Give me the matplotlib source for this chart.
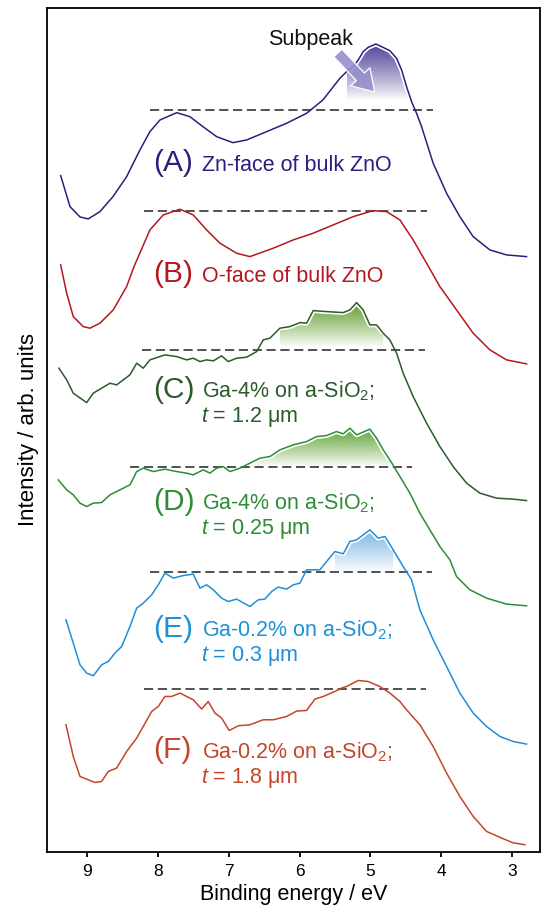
import numpy as np; import matplotlib.pyplot as plt
from matplotlib.patches import Polygon
from matplotlib.colors import to_rgb

plt.rcParams['font.family'] = ['Liberation Sans', 'DejaVu Sans']
plt.rcParams['mathtext.fontset'] = 'custom'
plt.rcParams['mathtext.rm'] = 'Liberation Sans'
plt.rcParams['mathtext.it'] = 'Liberation Sans:italic'

##### Spectra (binding energy / eV, intensity relative to each dashed reference line)
e_a = [9.376, 9.244, 9.103, 8.986, 8.821, 8.637, 8.444, 8.256, 8.115, 7.973, 7.737, 7.550, 7.366,
       7.172, 6.942, 6.749, 6.466, 6.184, 5.901, 5.671, 5.431, 5.336, 5.243, 5.172, 5.102, 5.031,
       4.922, 4.842, 4.725, 4.630, 4.559, 4.489, 4.418, 4.348, 4.277, 4.113, 3.924, 3.736, 3.548,
       3.312, 3.076, 2.794]
i_a = [-6.57, -9.67, -10.7, -10.9, -10.17, -8.67, -6.67, -4.0, -2.17, -1.0, -0.27, -0.67, -1.67,
       -2.67, -3.27, -3.0, -2.17, -1.33, -0.33, 1.0, 3.17, 3.83, 4.33, 5.0, 5.83, 6.27,
       6.6, 6.33, 5.93, 5.17, 4.0, 2.33, 0.83, -0.33, -1.67, -5.33, -8.33, -10.67, -12.67,
       -14.0, -14.5, -14.67]

e_b = [9.376, 9.291, 9.198, 9.057, 8.962, 8.821, 8.633, 8.444, 8.340, 8.115, 7.927, 7.691, 7.503,
       7.314, 7.126, 6.890, 6.702, 6.373, 6.090, 5.808, 5.526, 5.243, 4.961, 4.771, 4.583, 4.396,
       4.206, 4.018, 3.783, 3.548, 3.312, 3.076, 2.794]
i_b = [-5.43, -8.26, -10.6, -11.6, -11.76, -11.26, -9.93, -7.6, -5.6, -1.93, -0.43, 0.14, -0.43,
       -1.93, -3.26, -4.26, -4.6, -3.76, -2.93, -2.26, -1.43, -0.6, 0.0, -0.1, -0.93, -2.93,
       -5.26, -7.6, -9.93, -12.26, -13.93, -14.93, -15.33]

e_c = [9.400, 9.291, 9.198, 9.009, 8.915, 8.797, 8.679, 8.585, 8.492, 8.397, 8.302, 8.209, 8.115,
       7.903, 7.737, 7.596, 7.503, 7.408, 7.314, 7.220, 7.102, 7.009, 6.890, 6.749, 6.607, 6.514,
       6.420, 6.278, 6.137, 5.996, 5.901, 5.808, 5.619, 5.384, 5.290, 5.195, 5.102, 5.007, 4.913,
       4.819, 4.725, 4.630, 4.537, 4.396, 4.206, 4.018, 3.831, 3.641, 3.453, 3.218, 2.983, 2.794]
i_c = [-1.83, -3.0, -4.33, -5.27, -4.33, -3.83, -3.33, -3.5, -3.0, -2.5, -1.33, -1.83, -1.0,
       -0.5, -0.67, -1.0, -0.83, -1.17, -1.0, -1.1, -0.6, -1.17, -0.83, -0.73, -0.17, 1.0,
       1.17, 2.17, 2.33, 2.73, 2.67, 3.93, 3.83, 3.73, 4.0, 4.73, 4.0, 2.5, 2.5,
       1.67, 1.0, -0.33, -2.33, -4.67, -7.33, -9.67, -11.67, -13.33, -14.33, -14.83, -14.93, -15.07]

e_d = [9.410, 9.291, 9.198, 9.103, 9.009, 8.915, 8.797, 8.679, 8.538, 8.397, 8.302, 8.209, 8.068,
       7.903, 7.737, 7.596, 7.503, 7.362, 7.267, 7.172, 7.079, 6.985, 6.843, 6.702, 6.561, 6.420,
       6.278, 6.090, 5.901, 5.760, 5.619, 5.478, 5.384, 5.290, 5.195, 5.007, 4.913, 4.819, 4.725,
       4.583, 4.442, 4.301, 4.160, 4.018, 3.877, 3.783, 3.595, 3.359, 3.076, 2.794]
i_d = [-1.33, -2.33, -2.83, -3.66, -4.0, -3.66, -3.6, -2.83, -2.33, -1.83, -0.5, -0.16, -0.5,
       -0.26, -0.5, -0.66, -0.83, -0.33, -0.66, -0.16, 0.0, -0.5, -0.16, 0.34, 0.84, 1.0,
       1.67, 2.17, 2.5, 3.0, 3.1, 3.5, 3.27, 3.84, 3.17, 3.74, 2.84, 1.67, 0.67,
       -1.0, -2.66, -4.66, -6.33, -8.0, -9.33, -11.0, -12.33, -13.16, -13.76, -13.93]

e_e = [9.301, 9.198, 9.103, 9.009, 8.915, 8.797, 8.703, 8.609, 8.514, 8.397, 8.302, 8.209, 8.090,
       7.997, 7.903, 7.785, 7.644, 7.503, 7.408, 7.314, 7.220, 7.102, 7.009, 6.890, 6.702, 6.585,
       6.490, 6.396, 6.302, 6.184, 6.090, 5.996, 5.901, 5.713, 5.619, 5.502, 5.384, 5.290, 5.195,
       5.007, 4.890, 4.795, 4.678, 4.537, 4.418, 4.301, 4.113, 3.924, 3.736, 3.548, 3.359, 3.171,
       2.983, 2.794]
i_e = [-4.77, -7.1, -9.27, -10.1, -10.37, -9.27, -8.94, -8.1, -7.44, -5.44, -3.6, -3.1, -2.27,
       -1.27, -0.1, -0.6, -0.34, -0.2, -1.6, -1.27, -1.77, -2.6, -2.94, -2.7, -3.44, -2.77,
       -2.7, -1.94, -1.5, -1.7, -1.27, -1.1, 0.23, 0.23, 1.06, 2.06, 1.83, 3.06, 3.23,
       4.23, 3.4, 3.56, 2.23, 0.56, -0.77, -3.77, -6.77, -9.44, -12.1, -14.1, -15.44, -16.44,
       -16.94, -17.2]

e_f = [9.301, 9.198, 9.103, 8.891, 8.797, 8.703, 8.585, 8.444, 8.302, 8.090, 7.997, 7.903, 7.808,
       7.691, 7.503, 7.384, 7.291, 7.196, 7.102, 6.994, 6.867, 6.702, 6.514, 6.373, 6.184, 6.042,
       5.901, 5.784, 5.667, 5.502, 5.407, 5.336, 5.172, 5.031, 4.866, 4.725, 4.583, 4.489, 4.301,
       4.113, 3.924, 3.736, 3.548, 3.359, 3.147, 2.987, 2.818]
i_f = [-3.57, -6.74, -8.74, -9.34, -9.24, -8.24, -7.9, -6.24, -4.9, -2.24, -1.74, -0.74, -0.74,
       -0.4, -1.07, -2.0, -1.24, -2.4, -2.9, -4.14, -3.67, -3.57, -3.07, -3.07, -2.74, -2.2,
       -2.14, -1.0, -0.74, -0.24, 0.1, 0.26, 0.86, 0.76, 0.26, -0.4, -1.24, -2.07, -3.57,
       -5.74, -8.4, -10.74, -12.74, -14.24, -14.9, -15.37, -15.57]

energies = [e_a, e_b, e_c, e_d, e_e, e_f]
intensities = [i_a, i_b, i_c, i_d, i_e, i_f]
offsets = [74.2, 64.13, 50.2, 38.53, 27.97, 16.27]
colors = ['#2A1F7E', '#B3181F', '#2C5A2A', '#2E8B36', '#1E8FD8', '#C4452A']

# dashed reference lines (energy span)
ref_from = [8.115, 8.199, 8.232, 8.397, 8.115, 8.199]
ref_to = [4.122, 4.206, 4.230, 4.418, 4.136, 4.216]

# subpeak shading: (curve index, energy span, colour)
shade_idx = [0, 2, 3, 4]
shade_from = [5.43, 6.38, 6.84, 5.57]
shade_to = [4.41, 4.75, 4.68, 4.54]
shade_base = [1.0, 0.3, 0.0, 0.0]
shade_col = ['#4E4399', '#5E9E2A', '#62A436', '#7DB4DE']

tags = ['(A)', '(B)', '(C)', '(D)', '(E)', '(F)']
line1 = ['Zn-face of bulk ZnO', 'O-face of bulk ZnO', 'Ga-4% on a-SiO$_2$;', 'Ga-4% on a-SiO$_2$;',
         'Ga-0.2% on a-SiO$_2$;', 'Ga-0.2% on a-SiO$_2$;']
line2 = ['', '', '$t$ = 1.2 μm', '$t$ = 0.25 μm', '$t$ = 0.3 μm', '$t$ = 1.8 μm']
label_y = [68.1, 57.0, 45.4, 34.2, 21.53, 9.37]

fig = plt.figure(figsize=(5.41, 9.09), dpi=100)
ax = fig.add_axes([0.0874, 0.063, 0.9106, 0.9282])

for k in range(6):
    e = np.array(energies[k]); y = np.array(intensities[k]) + offsets[k]
    ax.plot(e, y, color=colors[k], lw=1.1, zorder=4)
    ax.plot([ref_from[k], ref_to[k]], [offsets[k]]*2, color='#333333', lw=1.2,
            dashes=(5.5, 2.8), zorder=3)
    ax.text(8.07, label_y[k], tags[k], color=colors[k], fontsize=21.5, va='baseline', ha='left')
    ax.text(7.38, label_y[k], line1[k], color=colors[k], fontsize=15.5, va='baseline', ha='left')
    if line2[k]:
        ax.text(7.40, label_y[k] - 2.45, line2[k], color=colors[k], fontsize=15.5,
                va='baseline', ha='left')

##### Gradient fills under the subpeaks
for s in range(4):
    k = shade_idx[s]
    e = np.array(energies[k]); y = np.array(intensities[k]) + offsets[k]
    m = (e <= shade_from[s]) & (e >= shade_to[s])
    xs = e[m]; ys = y[m]; base = offsets[k] + shade_base[s]
    poly = Polygon([(xs[0], base)] + list(zip(xs, ys)) + [(xs[-1], base)], closed=True,
                   fc='none', ec='none')
    ax.add_patch(poly)
    rgba = np.zeros((256, 1, 4)); rgba[..., :3] = to_rgb(shade_col[s])
    rgba[..., 3] = np.linspace(0, 1, 256)[:, None] ** 0.9
    im = ax.imshow(rgba, extent=[xs.max(), xs.min(), base, ys.max()], origin='lower',
                   aspect='auto', interpolation='bilinear', zorder=1)
    im.set_clip_path(poly)
    ax.plot(xs, ys, color='white', lw=3.5, zorder=2, solid_capstyle='butt')

##### Subpeak arrow
ax.text(5.84, 81.2, 'Subpeak', fontsize=15.5, ha='center', va='center', color='#111111')
ax.annotate('', xy=(4.94, 76.0), xytext=(5.46, 79.9),
            arrowprops=dict(arrowstyle='simple,head_width=1.9,head_length=1.5,tail_width=0.8',
                            mutation_scale=10, fc='#9590CC', ec='white', lw=1.0, alpha=0.9,
                            shrinkA=0, shrinkB=0), zorder=5)

ax.set_xlim(9.565, 2.605); ax.set_ylim(0, 84.4)
ax.set_xticks([9, 8, 7, 6, 5, 4, 3]); ax.set_yticks([])
ax.tick_params(axis='x', direction='out', length=3.5, width=1.3, labelsize=12.5, pad=5)
for sp in ax.spines.values(): sp.set_linewidth(1.3)
ax.set_xlabel('Binding energy / eV', fontsize=15.5, labelpad=4)
ax.set_ylabel('Intensity / arb. units', fontsize=16, labelpad=6)

fig.savefig('out.png', dpi=100)
